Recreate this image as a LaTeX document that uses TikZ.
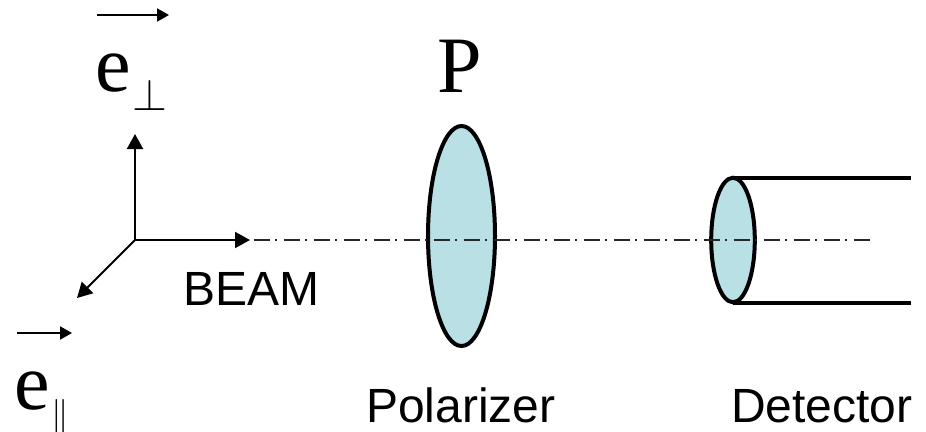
\documentclass[tikz,border=0pt]{standalone}
\usepackage{fontspec}
\usepackage{graphicx}
\setmainfont{Liberation Sans}
\newfontfamily\serifface{Liberation Serif}
\usetikzlibrary{arrows.meta,shapes.geometric}
\definecolor{lens}{RGB}{185,224,228}
\tikzset{
  x=1pt,y=-1pt,
  label text/.style={anchor=base west,inner sep=0pt,font=\fontsize{48}{52}\selectfont},
  symbol text/.style={anchor=base west,inner sep=0pt,font=\fontsize{80}{84}\selectfont\serifface},
  sub text/.style={anchor=base west,inner sep=0pt},
  optic/.style={draw=black,line width=4pt,fill=lens,shape=ellipse,inner sep=0pt,outer sep=0pt},
  tube/.style={draw=black,line width=4pt},
  axis arrow/.style={draw=black,line width=2pt,-{Triangle[length=15pt,width=16pt]}},
  vec arrow/.style={draw=black,line width=2pt,-{Triangle[length=12pt,width=13pt]}},
  beam line/.style={draw=black!85,line width=2pt,dash pattern=on 16pt off 5.5pt on 2pt off 6.5pt}
}
\begin{document}
\begin{tikzpicture}
\useasboundingbox (0,0) rectangle (926,431);
\coordinate (O) at (135,240);
\coordinate (up) at (135,134);
\coordinate (diag) at (77,298);
\coordinate (beamtip) at (250,240);
\coordinate (beamstart) at (253.5,240);
\coordinate (beamend) at (870,240);
\coordinate (va1) at (97,15);
\coordinate (va2) at (169,15);
\coordinate (vb1) at (17,333);
\coordinate (vb2) at (72,333);
\coordinate (t1) at (733,177.5);
\coordinate (t2) at (911,177.5);
\coordinate (b1) at (733,302.5);
\coordinate (b2) at (911,302.5);
\draw[tube] (t1) -- (t2);
\draw[tube] (b1) -- (b2);
\node[optic,minimum width=67pt,minimum height=220pt] (polarizer) at (461.5,236) {};
\node[optic,minimum width=43.6pt,minimum height=124.5pt] (detector) at (733,240) {};
\draw[beam line] (beamstart) -- (beamend);
\draw[axis arrow] (O) -- (up);
\draw[axis arrow] (O) -- (diag);
\draw[axis arrow] (O) -- (beamtip);
\draw[vec arrow] (va1) -- (va2);
\draw[vec arrow] (vb1) -- (vb2);
\node[symbol text] (eperp) at (95,91) {e};
\node[sub text,font=\fontsize{43}{45}\selectfont] (perp) at (132.5,110) {\scalebox{1.8}{$\perp$}};
\node[symbol text] (epar) at (14,409) {e};
\node[sub text,font=\fontsize{36}{40}\selectfont] (par) at (51,425) {\scalebox{1.4}{$\|$}};
\node[symbol text] (P) at (437,92) {P};
\node[label text] (beam) at (183,305) {BEAM};
\node[label text] (pol) at (366,422) {Polarizer};
\node[label text] (det) at (731,422) {Detector};
\end{tikzpicture}
\end{document}
